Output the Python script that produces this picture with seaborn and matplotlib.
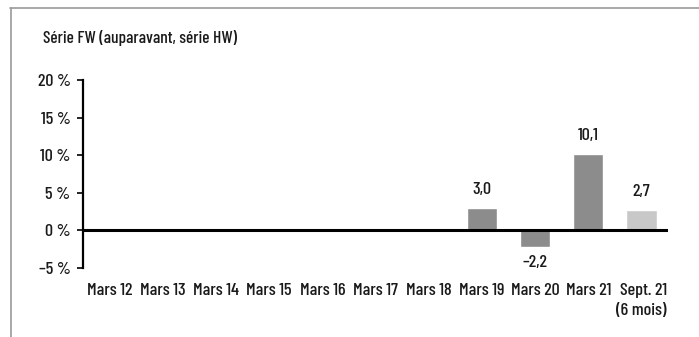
import numpy as np
import pandas as pd
import seaborn as sns
import matplotlib.pyplot as plt
from matplotlib.lines import Line2D

# data
categories = ["Mars 12", "Mars 13", "Mars 14", "Mars 15", "Mars 16", "Mars 17",
              "Mars 18", "Mars 19", "Mars 20", "Mars 21", "Sept. 21\n(6 mois)"]
values = [np.nan, np.nan, np.nan, np.nan, np.nan, np.nan, np.nan, 3.0, -2.2, 10.1, 2.7]
bar_colors = ["#8c8c8c"] * 10 + ["#c8c8c8"]
yticks = [-5, 0, 5, 10, 15, 20]

sns.set_style("white")
plt.rcParams['font.family'] = ['Barlow Condensed', 'DejaVu Sans']
plt.rcParams['font.weight'] = 500
plt.rcParams['text.color'] = "#1a1a1a"
plt.rcParams['xtick.color'] = "#1a1a1a"
plt.rcParams['ytick.color'] = "#1a1a1a"
fs = 13

df = pd.DataFrame({"cat": categories, "val": values})

fig = plt.figure(figsize=(6.99, 3.37), dpi=100)
ax = fig.add_axes([83/699, 1 - 268/337, (668 - 83)/699, (268 - 80)/337])
sns.barplot(data=df, x="cat", y="val", hue="cat", order=categories, hue_order=categories,
            palette=bar_colors, legend=False, width=0.57, ax=ax, saturation=1)

ax.set_ylim(-5, 20)
ax.set_xlim(-0.5, len(categories) - 0.5)
ax.set_yticks(yticks)
ax.set_yticklabels([("–" if t < 0 else "") + f"{abs(t)} %" for t in yticks], fontsize=fs)
ax.tick_params(axis="y", length=4, width=1.2, color="black", left=True, pad=5)
ax.tick_params(axis="x", length=0, labelsize=fs, pad=11)
for lbl in ax.get_xticklabels():
    lbl.set_multialignment("right")
    lbl.set_linespacing(1.4)
ax.set_xlabel("")
ax.set_ylabel("")
for s in ["top", "right", "bottom"]:
    ax.spines[s].set_visible(False)
ax.spines["left"].set_linewidth(1.6)
ax.spines["left"].set_color("black")
ax.axhline(0, color="black", lw=2.2)

# value labels
for i, v in enumerate(values):
    if np.isnan(v):
        continue
    txt = ("–" if v < 0 else "") + f"{abs(v):.1f}".replace(".", ",")
    if v >= 0:
        ax.text(i, v + 2.5, txt, ha="center", va="center", fontsize=fs)
    else:
        ax.text(i, v - 2.1, txt, ha="center", va="center", fontsize=fs)

fig.text(43/699, 1 - 38/337, "Série FW (auparavant, série HW)", fontsize=12.5, va="center")

# frame lines
fig.add_artist(Line2D([10/699, 1], [1 - 8/337, 1 - 8/337], color="#9a9a9a", lw=1.2))
fig.add_artist(Line2D([11/699, 11/699], [0, 1 - 8/337], color="#9a9a9a", lw=1.2))

fig.savefig("out.png", dpi=100)
